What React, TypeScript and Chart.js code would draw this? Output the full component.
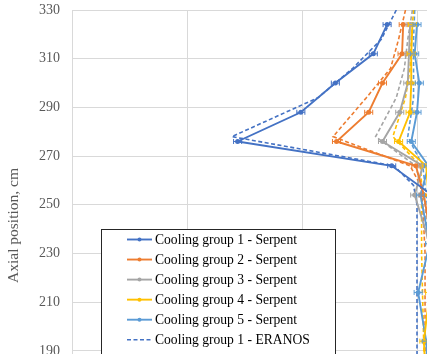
import React, { useEffect, useRef } from "react";
import { Chart, registerables } from "chart.js";

Chart.register(...registerables);

const FONT = "'Liberation Serif', 'Times New Roman', serif";

// Axis ticks
const yTickValues = [170, 190, 210, 230, 250, 270, 290, 310, 330];

// Axial positions (cm)
const serpentAxial = [324, 312, 300, 288, 276, 266, 254, 234, 214, 194, 174, 154];
const eranosAxial = [330, 318, 306, 294, 278, 266, 258, 250, 230, 210, 190, 170, 150];

// Serpent values per cooling group
const serpent1 = [2.74, 2.62, 2.29, 1.99, 1.44, 2.78, 3.13, 3.2, 3.24, 3.24, 3.24, 3.24];
const serpent2 = [2.88, 2.87, 2.7, 2.58, 2.3, 2.99, 3.06, 3.13, 3.17, 3.17, 3.17, 3.17];
const serpent3 = [2.94, 2.93, 2.92, 2.85, 2.7, 3.05, 2.98, 3.11, 3.14, 3.14, 3.14, 3.14];
const serpent4 = [2.96, 2.95, 2.95, 2.94, 2.84, 3.08, 3.1, 3.13, 3.11, 3.06, 3.08, 3.08];
const serpent5 = [3.0, 2.98, 3.02, 3.0, 2.95, 3.1, 3.03, 3.11, 3.01, 3.08, 3.1, 3.1];

// ERANOS values per cooling group
const eranos1 = [2.82, 2.69, 2.44, 2.14, 1.39, 2.8, 2.97, 3.0, 3.0, 3.0, 3.0, 3.0, 3.0];
const eranos2 = [2.9, 2.84, 2.77, 2.56, 2.27, 2.94, 3.03, 3.05, 3.07, 3.07, 3.07, 3.07, 3.07];
const eranos3 = [2.96, 2.92, 2.89, 2.82, 2.64, 2.99, 3.03, 3.07, 3.1, 3.1, 3.1, 3.1, 3.1];
const eranos4 = [2.97, 2.95, 2.94, 2.9, 2.79, 3.03, 3.04, 3.04, 3.04, 3.05, 3.06, 3.07, 3.07];
const eranos5 = [2.98, 2.97, 2.97, 2.97, 2.92, 3.05, 3.07, 3.09, 3.11, 3.11, 3.11, 3.11, 3.11];

// Statistical uncertainty of Serpent results (x units)
const serpentErr = [0.035, 0.035, 0.035, 0.035, 0.035];

const groupNames = ["Cooling group 1", "Cooling group 2", "Cooling group 3", "Cooling group 4", "Cooling group 5"];
const groupColors = ["#4472C4", "#ED7D31", "#A5A5A5", "#FFC000", "#5B9BD5"];

const serpentSeries = [serpent1, serpent2, serpent3, serpent4, serpent5];
const eranosSeries = [eranos1, eranos2, eranos3, eranos4, eranos5];

const legendPlugin = {
  id: "boxLegend",
  afterDraw(chart: any) {
    const ctx = chart.ctx as CanvasRenderingContext2D;
    const left = 101;
    const top = 229;
    const width = 234;
    const rowH = 20.05;
    const n = chart.data.datasets.length;
    const height = n * rowH + 2;
    ctx.save();
    ctx.fillStyle = "#ffffff";
    ctx.fillRect(left, top, width, height);
    ctx.strokeStyle = "#262626";
    ctx.lineWidth = 1;
    ctx.strokeRect(left + 0.5, top + 0.5, width, height);
    chart.data.datasets.forEach((ds: any, i: number) => {
      const cy = top + 10.5 + i * rowH;
      ctx.strokeStyle = ds.borderColor;
      ctx.lineWidth = ds.borderWidth;
      ctx.setLineDash(ds.borderDash || []);
      ctx.beginPath();
      ctx.moveTo(127, cy);
      ctx.lineTo(152, cy);
      ctx.stroke();
      ctx.setLineDash([]);
      if (ds.pointRadius > 0) {
        ctx.fillStyle = ds.backgroundColor;
        ctx.beginPath();
        ctx.arc(139.5, cy, ds.pointRadius * 0.8, 0, Math.PI * 2);
        ctx.fill();
      }
      ctx.fillStyle = "#000000";
      ctx.font = `13.6px ${FONT}`;
      ctx.textAlign = "left";
      ctx.textBaseline = "middle";
      ctx.fillText(ds.label, 155, cy + 0.5);
    });
    ctx.restore();
  },
};

const errorBarPlugin = {
  id: "xErrorBars",
  afterDatasetsDraw(chart: any) {
    const ctx = chart.ctx as CanvasRenderingContext2D;
    const xScale = chart.scales.x;
    const area = chart.chartArea;
    ctx.save();
    ctx.beginPath();
    ctx.rect(area.left, area.top - 5, area.right - area.left, area.bottom - area.top + 10);
    ctx.clip();
    chart.data.datasets.forEach((ds: any, i: number) => {
      if (!ds.errX) return;
      const meta = chart.getDatasetMeta(i);
      ctx.strokeStyle = ds.borderColor;
      ctx.lineWidth = 1;
      meta.data.forEach((pt: any, j: number) => {
        const v = ds.data[j].x;
        const x0 = xScale.getPixelForValue(v - ds.errX);
        const x1 = xScale.getPixelForValue(v + ds.errX);
        const y = pt.y;
        ctx.beginPath();
        ctx.moveTo(x0, y);
        ctx.lineTo(x1, y);
        ctx.moveTo(x0, y - 2.5);
        ctx.lineTo(x0, y + 2.5);
        ctx.moveTo(x1, y - 2.5);
        ctx.lineTo(x1, y + 2.5);
        ctx.stroke();
      });
    });
    ctx.restore();
  },
};

export default function App() {
  const canvasRef = useRef<HTMLCanvasElement | null>(null);

  useEffect(() => {
    if (!canvasRef.current) return;
    const datasets: any[] = [];
    serpentSeries.forEach((vals, g) => {
      datasets.push({
        label: `${groupNames[g]} - Serpent`,
        data: vals.map((v, k) => ({ x: v, y: serpentAxial[k] })),
        borderColor: groupColors[g],
        backgroundColor: groupColors[g],
        borderWidth: 1.9,
        pointRadius: 2.5,
        pointHoverRadius: 2.5,
        pointBorderWidth: 0,
        showLine: true,
        tension: 0,
        errX: serpentErr[g],
      });
    });
    eranosSeries.forEach((vals, g) => {
      datasets.push({
        label: `${groupNames[g]} - ERANOS`,
        data: vals.map((v, k) => ({ x: v, y: eranosAxial[k] })),
        borderColor: groupColors[g],
        backgroundColor: groupColors[g],
        borderWidth: 1.6,
        borderDash: [4, 2.5],
        pointRadius: 0,
        pointHoverRadius: 0,
        showLine: true,
        tension: 0,
      });
    });

    const chart = new Chart(canvasRef.current, {
      type: "scatter",
      data: { datasets },
      plugins: [errorBarPlugin, legendPlugin],
      options: {
        animation: false,
        responsive: false,
        maintainAspectRatio: false,
        layout: { padding: { top: 10, right: 5.5, bottom: 9, left: 0 } },
        plugins: {
          legend: { display: false },
          tooltip: { enabled: false },
        },
        scales: {
          x: {
            type: "linear",
            min: 0,
            max: 3.5,
            ticks: { display: false, stepSize: 1 },
            grid: { color: "#d9d9d9", drawTicks: false, lineWidth: 1 },
            border: { display: false },
          },
          y: {
            type: "linear",
            min: 153,
            max: 330,
            afterBuildTicks: (scale: any) => {
              scale.ticks = yTickValues.map((v) => ({ value: v }));
            },
            afterFit: (scale: any) => {
              scale.width = 72;
            },
            grid: {
              color: "#d9d9d9",
              drawTicks: true,
              tickLength: 12,
              tickColor: "rgba(0,0,0,0)",
              lineWidth: 1,
            },
            border: { display: false },
            ticks: {
              color: "#595959",
              font: { family: FONT, size: 14 },
              padding: 0,
            },
            title: {
              display: true,
              text: "Axial position, cm",
              color: "#595959",
              font: { family: FONT, size: 15.5 },
              padding: { top: 4.2, bottom: 0 },
            },
          },
        },
      } as any,
    });
    return () => chart.destroy();
  }, []);

  return (
    <div
      style={{
        position: "fixed",
        left: 0,
        top: 0,
        width: 427,
        height: 354,
        overflow: "hidden",
        background: "#ffffff",
      }}
    >
      <canvas ref={canvasRef} width={480} height={450} style={{ display: "block" }} />
    </div>
  );
}
